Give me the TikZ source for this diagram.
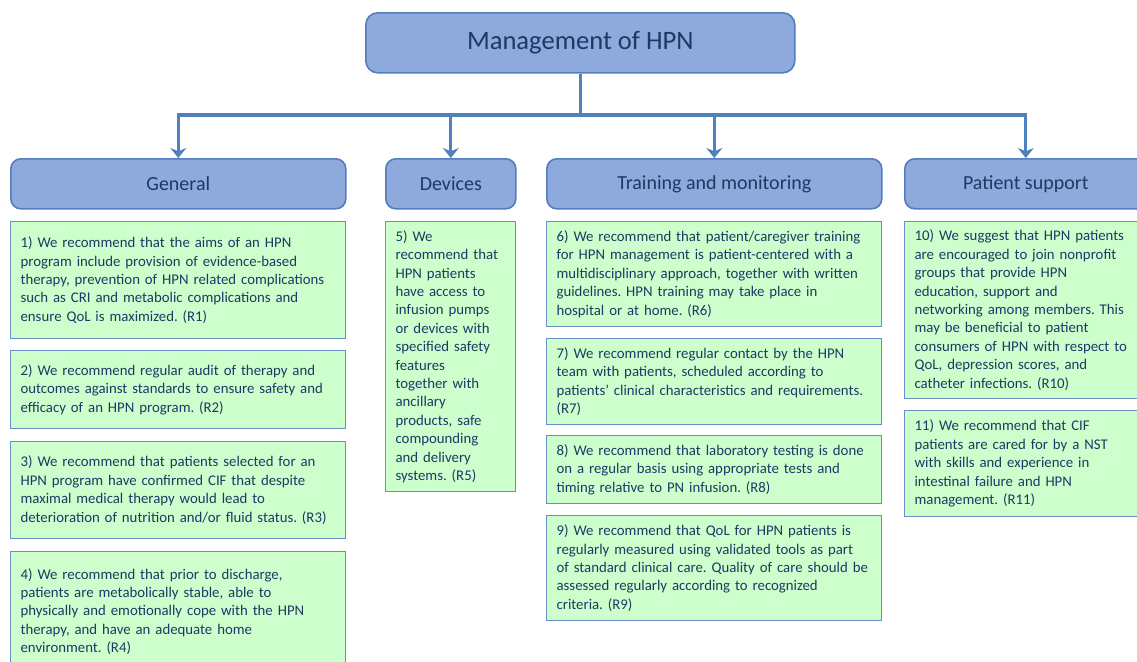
\documentclass[tikz,border=0pt]{standalone}
\usepackage{fontspec}
\setmainfont{Carlito}
\usetikzlibrary{arrows.meta,positioning}
\frenchspacing

\definecolor{hdrfill}{RGB}{142,169,219}
\definecolor{hdrline}{RGB}{84,124,193}
\definecolor{recfill}{RGB}{204,255,204}
\definecolor{recline}{RGB}{108,142,200}
\definecolor{txtblue}{RGB}{31,56,100}
\definecolor{connblue}{RGB}{79,129,189}

\tikzset{
  heading/.style 2 args={draw=hdrline, line width=0.8pt, fill=hdrfill, rounded corners=5pt,
    text=txtblue, anchor=north west, minimum width=#1*0.5pt, minimum height=#2*0.5pt,
    inner sep=0pt, font=\fontsize{10}{12}\selectfont},
  rec/.style 2 args={draw=recline, line width=0.6pt, fill=recfill, text=txtblue,
    anchor=north west, align=left, inner xsep=5pt, inner ysep=0pt,
    text width=#1*0.5pt-10pt, minimum height=#2*0.5pt, font=\fontsize{7.4}{9.2}\selectfont},
  conn/.style={draw=connblue, line width=1.6pt},
  down/.style={conn, -{Stealth[length=5pt,width=8pt]}},
}

\begin{document}
\begin{tikzpicture}[x=0.5pt,y=-0.5pt]
    \useasboundingbox (0,0) rectangle (1137,661);

    % top box
    \node[heading={429}{60}, rounded corners=6pt, font=\fontsize{13.3}{16}\selectfont] (title) at (365,12) {Management of HPN};

    % headings
    \node[heading={335}{50}] (general) at (10,158) {General};
    \node[heading={130}{50}] (devices) at (385,158) {Devices};
    \node[heading={335}{50}] (training) at (546,158) {Training and monitoring};
    \node[heading={242}{50}] (support) at (904,158) {Patient support};

    % connectors
    \coordinate (busy) at (0,115);
    \draw[conn] (title.south) -- (title.south |- busy);
    \foreach \h in {general,devices,training,support}
        \draw[down] (title.south |- busy) -| (\h.north);

    % general
    \node[rec={335}{117}] (r1) at (10,221) {1) We recommend that the aims of an HPN\\program include provision of evidence-based\\therapy, prevention of HPN related complications\\such as CRI and metabolic complications and\\ensure QoL is maximized. (R1)};
    \node[rec={335}{78}] (r2) at (10,350) {2) We recommend regular audit of therapy and\\outcomes against standards to ensure safety and\\efficacy of an HPN program. (R2)};
    \node[rec={335}{97}] (r3) at (10,441) {3) We recommend that patients selected for an\\HPN program have confirmed CIF that despite\\maximal medical therapy would lead to\\deterioration of nutrition and/or fluid status. (R3)};
    \node[rec={335}{120}] (r4) at (10,551) {4) We recommend that prior to discharge,\\patients are metabolically stable, able to\\physically and emotionally cope with the HPN\\therapy, and have an adequate home\\environment. (R4)};

    % devices
    \node[rec={130}{270}] (r5) at (385,221) {5) We\\recommend that\\HPN patients\\have access to\\infusion pumps\\or devices with\\specified safety\\features\\together with\\ancillary\\products, safe\\compounding\\and delivery\\systems. (R5)};

    % training and monitoring
    \node[rec={335}{105}] (r6) at (546,221) {6) We recommend that patient/caregiver training\\for HPN management is patient-centered with a\\multidisciplinary approach, together with written\\guidelines. HPN training may take place in\\hospital or at home. (R6)};
    \node[rec={335}{86}] (r7) at (546,338) {7) We recommend regular contact by the HPN\\team with patients, scheduled according to\\patients' clinical characteristics and requirements.\\(R7)};
    \node[rec={335}{68}] (r8) at (546,435) {8) We recommend that laboratory testing is done\\on a regular basis using appropriate tests and\\timing relative to PN infusion. (R8)};
    \node[rec={335}{105}] (r9) at (546,515) {9) We recommend that QoL for HPN patients is\\regularly measured using validated tools as part\\of standard clinical care. Quality of care should be\\assessed regularly according to recognized\\criteria. (R9)};

    % patient support
    \node[rec={242}{177}] (r10) at (904,221) {10) We suggest that HPN patients\\are encouraged to join nonprofit\\groups that provide HPN\\education, support and\\networking among members. This\\may be beneficial to patient\\consumers of HPN with respect to\\QoL, depression scores, and\\catheter infections. (R10)};
    \node[rec={242}{106}] (r11) at (904,410) {11) We recommend that CIF\\patients are cared for by a NST\\with skills and experience in\\intestinal failure and HPN\\management. (R11)};
\end{tikzpicture}
\end{document}
